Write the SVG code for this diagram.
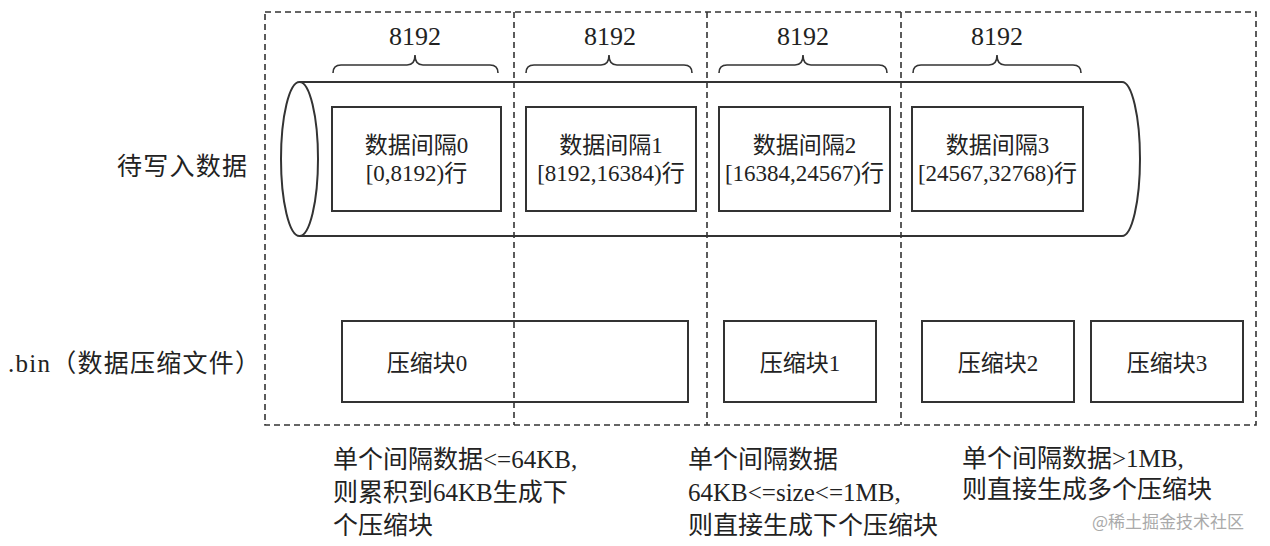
<svg xmlns="http://www.w3.org/2000/svg" width="1270" height="546" viewBox="0 0 1270 546">
<style>
.dash{fill:none;stroke:#333;stroke-width:1.6;stroke-dasharray:6 4}
.box{fill:#fff;stroke:#333;stroke-width:2}
.ln{fill:none;stroke:#333;stroke-width:2}
.br{fill:none;stroke:#333;stroke-width:1.6}
text{font-family:"Liberation Serif","Noto Sans CJK SC",serif;fill:#222}
.num{font-size:26px;text-anchor:middle}
.bt{font-size:23px;text-anchor:middle}
.lab{font-size:25px}
.note{font-size:25px}
.wm{font-family:"Noto Sans CJK SC",sans-serif;font-size:17px;fill:#aaa}
</style>
<rect width="1270" height="546" fill="#fff"/>
<g id="cylinder">
<path class="ln" d="M299,82 H1122 A18,77 0 0 1 1122,236 H299"/>
<ellipse class="ln" cx="299.5" cy="159" rx="18.5" ry="77"/>
</g>
<g id="interval0"><rect class="box" x="332" y="107" width="169" height="104"/><text class="bt" x="416.5" y="153">数据间隔0</text><text class="bt" x="416.5" y="181">[0,8192)行</text></g>
<g id="interval1"><rect class="box" x="526" y="107" width="170" height="104"/><text class="bt" x="611" y="153">数据间隔1</text><text class="bt" x="611" y="181">[8192,16384)行</text></g>
<g id="interval2"><rect class="box" x="719" y="107" width="171" height="104"/><text class="bt" x="804.5" y="153">数据间隔2</text><text class="bt" x="804.5" y="181">[16384,24567)行</text></g>
<g id="interval3"><rect class="box" x="912" y="107" width="171" height="104"/><text class="bt" x="997.5" y="153">数据间隔3</text><text class="bt" x="997.5" y="181">[24567,32768)行</text></g>
<g id="braces">
<path class="br" d="M333,73 Q333,65 341,65 H407 Q415,65 415,55 Q415,65 423,65 H490 Q498,65 498,73"/>
<text class="num" x="415" y="45">8192</text>
<path class="br" d="M526,73 Q526,65 534,65 H601 Q609,65 609,55 Q609,65 617,65 H684 Q692,65 692,73"/>
<text class="num" x="610" y="45">8192</text>
<path class="br" d="M719,73 Q719,65 727,65 H795 Q803,65 803,55 Q803,65 811,65 H879 Q887,65 887,73"/>
<text class="num" x="803" y="45">8192</text>
<path class="br" d="M913,73 Q913,65 921,65 H989 Q997,65 997,55 Q997,65 1005,65 H1073 Q1081,65 1081,73"/>
<text class="num" x="997" y="45">8192</text>
</g>
<g id="block0"><rect class="box" x="342" y="321" width="346" height="81"/><text class="bt" x="427" y="371">压缩块0</text></g>
<g id="block1"><rect class="box" x="724" y="321" width="152" height="81"/><text class="bt" x="800" y="371">压缩块1</text></g>
<g id="block2"><rect class="box" x="922" y="321" width="152" height="81"/><text class="bt" x="998" y="371">压缩块2</text></g>
<g id="block3"><rect class="box" x="1091" y="321" width="152" height="81"/><text class="bt" x="1167" y="371">压缩块3</text></g>
<g id="connectors">
<rect class="dash" x="265" y="12" width="991" height="413"/>
<line class="dash" x1="514" y1="12" x2="514" y2="425"/>
<line class="dash" x1="707" y1="12" x2="707" y2="425"/>
<line class="dash" x1="901" y1="12" x2="901" y2="425"/>
</g>
<g id="labels">
<text class="lab" x="117" y="175" textLength="130">待写入数据</text>
<text class="lab" x="8" y="372" textLength="252">.bin（数据压缩文件）</text>
</g>
<g id="notes">
<text class="note" x="333" y="468">单个间隔数据&lt;=64KB,</text>
<text class="note" x="333" y="501">则累积到64KB生成下</text>
<text class="note" x="333" y="534">个压缩块</text>
<text class="note" x="688" y="468">单个间隔数据</text>
<text class="note" x="688" y="501">64KB&lt;=size&lt;=1MB,</text>
<text class="note" x="688" y="534">则直接生成下个压缩块</text>
<text class="note" x="962" y="467">单个间隔数据&gt;1MB,</text>
<text class="note" x="962" y="498">则直接生成多个压缩块</text>
<text class="wm" x="1092" y="528">@稀土掘金技术社区</text>
</g>
</svg>
